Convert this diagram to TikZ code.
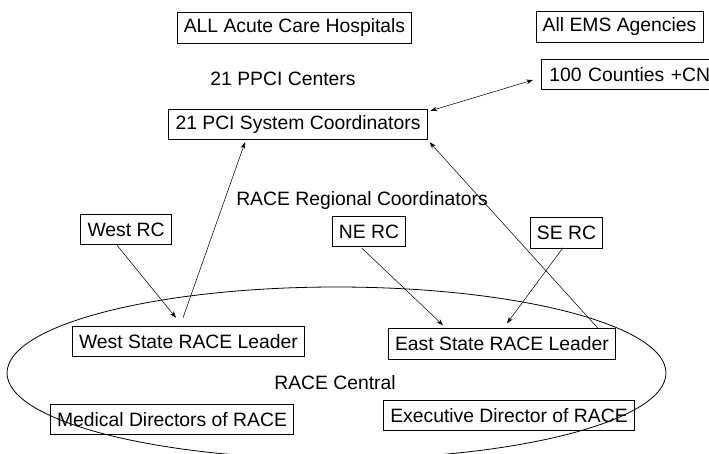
\documentclass[tikz,border=0pt]{standalone}
\usepackage{fontspec}
\setmainfont{Liberation Sans}
\usetikzlibrary{arrows.meta}
\begin{document}
\begin{tikzpicture}[x=0.75pt, y=-0.75pt, font=\fontsize{14.5}{17}\selectfont,
    box/.style={draw, line width=0.6pt, inner xsep=5pt, inner ysep=0pt, minimum height=23pt},
    lnk/.style={line width=0.4pt},
    >={Stealth[length=5pt, width=3.5pt]}]
    % Page frame
    \clip (0, 0) rectangle (709, 453);
    % Top row
    \node [box] (ach) at (294.5, 28) {ALL Acute Care Hospitals};
    \node [box] (ems) at (619.5, 27) {All EMS Agencies};
    \node (ppci) at (283, 79) {21 PPCI Centers};
    \node [box, anchor=west, text width=125pt, align=left, inner xsep=6pt] (cty) at (541, 74.5) {100 Counties +CN};
    \node [box] (pci) at (298, 124.5) {21 PCI System Coordinators};
    % Regional coordinators
    \node (rrc) at (362, 200) {RACE Regional Coordinators};
    \node [box] (wrc) at (126, 229.5) {West RC};
    \node [box] (nerc) at (369, 231.5) {NE RC};
    \node [box] (serc) at (566.5, 233) {SE RC};
    % RACE Central
    \draw [line width=0.6pt] (336.5, 373) ellipse [x radius=247.1pt, y radius=64.5pt];
    \node [box] (wsl) at (188.5, 341.5) {West State RACE Leader};
    \node [box] (esl) at (502, 344) {East State RACE Leader};
    \node (rc) at (335, 383) {RACE Central};
    \node [box] (med) at (172, 419.5) {Medical Directors of RACE};
    \node [box] (exe) at (509, 415.5) {Executive Director of RACE};
    % Draw links
    \draw [lnk, <->] ([shift={(3, 2)}]pci.north east) -- ([shift={(-8, 5.5)}]cty.west);
    \draw [lnk, ->] ([shift={(-5.5, -8)}]wsl.north) -- ([shift={(-53, 2)}]pci.south);
    \draw [lnk, ->] ([shift={(-18, 0)}]esl.north east) -- ([shift={(2, 2)}]pci.south east);
    \draw [lnk, ->] ([shift={(-9, 0)}]wrc.south) -- ([shift={(-12.5, -8)}]wsl.north);
    \draw [lnk, ->] ([shift={(-7, 1)}]nerc.south) -- ([shift={(-59, -3)}]esl.north);
    \draw [lnk, ->] ([shift={(-3.5, -1)}]serc.south) -- ([shift={(5, -5)}]esl.north);
\end{tikzpicture}
\end{document}
